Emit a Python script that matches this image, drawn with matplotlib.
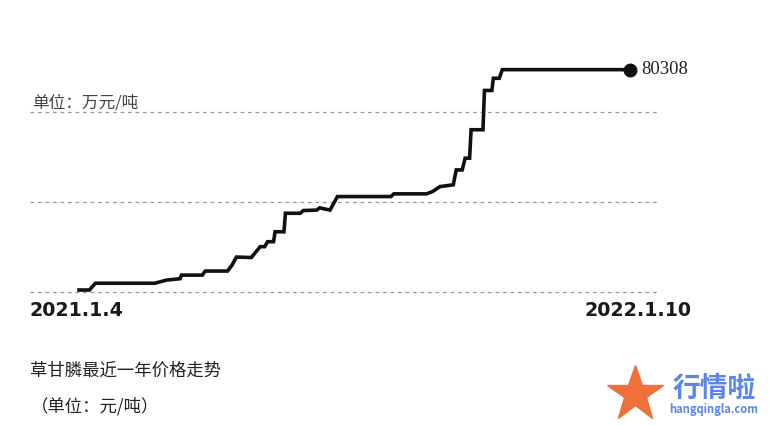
"""Glyphosate price trend, Jan 2021 - Jan 2022."""

import matplotlib

matplotlib.use("Agg")
import matplotlib.pyplot as plt
from matplotlib.lines import Line2D
import pandas as pd

plt.rcParams["font.family"] = ["Noto Sans CJK SC", "DejaVu Sans"]

dates = [
    "2021-01-04", "2021-01-11", "2021-01-15", "2021-02-24", "2021-03-04",
    "2021-03-13", "2021-03-14", "2021-03-28", "2021-03-30", "2021-04-14",
    "2021-04-17", "2021-04-20", "2021-04-30", "2021-05-06", "2021-05-09",
    "2021-05-11", "2021-05-15", "2021-05-16", "2021-05-22", "2021-05-23",
    "2021-06-02", "2021-06-04", "2021-06-13", "2021-06-15", "2021-06-22",
    "2021-06-27", "2021-08-02", "2021-08-04", "2021-08-26", "2021-08-30",
    "2021-09-04", "2021-09-13", "2021-09-15", "2021-09-19", "2021-09-21",
    "2021-09-24", "2021-09-25", "2021-10-03", "2021-10-04", "2021-10-09",
    "2021-10-10", "2021-10-14", "2021-10-16", "2022-01-10",
]
prices = [
    31500, 31500, 33000, 33000, 33700,
    34000, 34800, 34800, 35700, 35700,
    37000, 38800, 38700, 41100, 41100,
    42200, 42200, 44400, 44400, 48500,
    48500, 49100, 49200, 49700, 49200,
    52200, 52200, 52800, 52800, 53300,
    54400, 54800, 58100, 58100, 60700,
    60700, 67000, 67000, 75700, 75700,
    78400, 78400, 80308, 80308,
]
grid_levels = [31000, 51000, 71000]
start_label = "2021.1.4"
end_label = "2022.1.10"
unit_label = "单位：万元/吨"
caption = "草甘膦最近一年价格走势"
caption_unit = "（单位：元/吨）"

df = pd.DataFrame({"date": pd.to_datetime(dates), "price": prices})

W, H = 774, 425
fig = plt.figure(figsize=(W / 100, H / 100), dpi=100)
ax = fig.add_axes([30 / W, 1 - 301.3 / H, 630 / W, (301.3 - 57.5) / H])

for lvl in grid_levels:
    ax.axhline(lvl, color="#9a9a9a", lw=0.9, ls=(0, (3, 3)), zorder=1)

ax.plot(df["date"], df["price"], color="#111111", lw=2.6,
        solid_joinstyle="miter", zorder=3, clip_on=False)
last = df.iloc[-1]
ax.plot([last["date"]], [last["price"]], "o", color="#111111", ms=9,
        zorder=4, clip_on=False)
ax.annotate(f"{int(last['price'])}", (last["date"], last["price"]),
            xytext=(8, 0), textcoords="offset points", va="center",
            ha="left", fontsize=13.5, family="Liberation Serif", color="#222222")

ax.set_xlim(df["date"].iloc[0] - pd.Timedelta(days=33),
            df["date"].iloc[-1] + pd.Timedelta(days=20.2))
ax.set_ylim(29000, 83000)
ax.axis("off")

ax.text(0.003, grid_levels[-1], unit_label, transform=ax.get_yaxis_transform(),
        ha="left", va="bottom", fontsize=12, color="#444444")

# date labels under both ends
fig.text(76 / W, 1 - 310.5 / H, start_label, ha="center", va="center",
         fontsize=13.7, fontweight="bold", family="DejaVu Sans", color="#1a1a1a")
fig.text(637.5 / W, 1 - 310.5 / H, end_label, ha="center", va="center",
         fontsize=13.7, fontweight="bold", family="DejaVu Sans", color="#1a1a1a")

fig.text(30 / W, 1 - 371 / H, caption, ha="left", va="center",
         fontsize=12.5, color="#222222")
fig.text(31 / W, 1 - 406 / H, caption_unit, ha="left", va="center",
         fontsize=12.5, color="#222222")

# watermark
fig.add_artist(Line2D([635 / W], [1 - 394 / H], marker="*", ms=42,
                      color="#f0703a", transform=fig.transFigure))
fig.text(714 / W, 1 - 389 / H, "行情啦", ha="center", va="center", fontsize=20,
         fontweight="bold", color="#5a86e8", style="italic")
fig.text(714 / W, 1 - 409 / H, "hangqingla.com", ha="center", va="center",
         fontsize=8, fontweight="bold", color="#5a86e8", style="italic")

fig.savefig("out.png", dpi=100)
